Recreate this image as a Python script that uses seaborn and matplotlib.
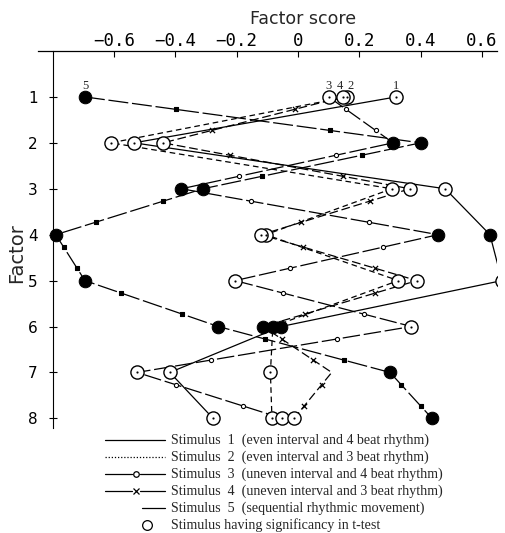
import numpy as np
import pandas as pd
import matplotlib
matplotlib.use("Agg")
import matplotlib.pyplot as plt
import seaborn as sns
from matplotlib.lines import Line2D

# ---------------- data ----------------
factors = [1, 2, 3, 4, 5, 6, 7, 8]
stim1 = [0.32, -0.535, 0.48, 0.626, 0.665, -0.055, -0.418, -0.277]
stim2 = [0.16, -0.61, 0.306, -0.105, 0.327, -0.082, -0.09, -0.085]
stim3 = [0.10, 0.31, -0.38, 0.457, -0.205, 0.37, -0.525, -0.052]
stim4 = [0.148, -0.44, 0.365, -0.12, 0.388, -0.114, 0.11, -0.013]
stim5 = [-0.695, 0.40, -0.31, -0.79, -0.695, -0.26, 0.30, 0.437]
# 1 = significant (open circle), 0 = not significant (filled), -1 = no marker
sig1 = [1, 1, 1, 0, 1, 0, 1, 1]
sig2 = [1, 1, 1, 1, 1, 0, 1, 1]
sig3 = [1, 0, 0, 0, 1, 1, 1, 1]
sig4 = [1, 1, 1, 1, 1, 0, -1, 1]
sig5 = [0, 0, 0, 0, 0, 0, 0, 0]
stim_ids = ["1", "2", "3", "4", "5"]
xticks = [-0.6, -0.4, -0.2, 0, 0.2, 0.4, 0.6]
xticklabels = ["\u22120.6", "\u22120.4", "\u22120.2", "0", "0.2", "0.4", "0.6"]
legend_labels = [
    "Stimulus  1  (even interval and 4 beat rhythm)",
    "Stimulus  2  (even interval and 3 beat rhythm)",
    "Stimulus  3  (uneven interval and 4 beat rhythm)",
    "Stimulus  4  (uneven interval and 3 beat rhythm)",
    "Stimulus  5  (sequential rhythmic movement)",
    "Stimulus having significancy in t-test",
]

values = [stim1, stim2, stim3, stim4, stim5]
sigs = [sig1, sig2, sig3, sig4, sig5]
rows = []
for sid, v, s in zip(stim_ids, values, sigs):
    for f, x, g in zip(factors, v, s):
        rows.append({"stim": sid, "factor": f, "score": x, "sig": g})
df = pd.DataFrame(rows)

# ---------------- figure ----------------
sns.set_theme(style="white")
plt.rcParams["font.family"] = ["DejaVu Sans"]
W, H = 506, 533
fig = plt.figure(figsize=(W / 100, H / 100), dpi=100)
fx = lambda px: px / W
fy = lambda py: 1 - py / H
ax = fig.add_axes([fx(38), fy(428), fx(497) - fx(38), fy(51) - fy(428)])

styles = {
    "1": dict(linestyle="-"),
    "2": dict(linestyle=(0, (4.5, 3))),
    "3": dict(linestyle=(0, (14, 3))),
    "4": dict(linestyle=(0, (7, 3))),
    "5": dict(linestyle=(0, (16, 3))),
}
for sid in stim_ids:
    d = df[df.stim == sid]
    sns.lineplot(data=d, x="score", y="factor", sort=False, estimator=None,
                 color="black", lw=0.9, ax=ax, zorder=2, **styles[sid])

# intermediate symbols along segments (stim 3: o, stim 4: x, stim 5: small squares)
mid_marks = {"3": ("o", 9, "white"), "4": ("x", 14, "black"), "5": ("s", 6, "black")}
for sid, (mk, sz, fc) in mid_marks.items():
    d = df[df.stim == sid]
    sx = d.score.to_numpy()
    sy = d.factor.to_numpy().astype(float)
    pts = []
    for t in (0.27, 0.73):
        px = sx[:-1] + t * (sx[1:] - sx[:-1])
        py = sy[:-1] + t * (sy[1:] - sy[:-1])
        pts.append(pd.DataFrame({"x": px, "y": py}))
    pts = pd.concat(pts)
    if mk == "x":
        sns.scatterplot(data=pts, x="x", y="y", marker="x", s=sz, color="black",
                        linewidth=0.9, ax=ax, zorder=3)
    else:
        sns.scatterplot(data=pts, x="x", y="y", marker=mk, s=sz, facecolor=fc,
                        edgecolor="black", linewidth=0.8, ax=ax, zorder=3)

# main markers
op = df[df.sig == 1]
fl = df[df.sig == 0]
sns.scatterplot(data=fl, x="score", y="factor", s=82, color="black",
                edgecolor="black", ax=ax, zorder=4)
sns.scatterplot(data=op, x="score", y="factor", s=90, facecolor="white",
                edgecolor="black", linewidth=1.0, ax=ax, zorder=5)
sns.scatterplot(data=op, x="score", y="factor", s=2, color="black",
                edgecolor="black", ax=ax, zorder=6)

# stimulus numbers above factor 1
label_dx = {"1": 0, "2": 2.5, "3": 0, "4": -2.5, "5": 0}
f1 = df[df.factor == 1]
for _, r in f1.iterrows():
    ax.annotate(r.stim, (r.score, r.factor), xytext=(label_dx[r.stim], 8),
                textcoords="offset points", ha="center", va="center", fontsize=9,
                family="Liberation Serif")

ax.set_xlim(-0.848, 0.649)
ax.set_ylim(8.21, 0.0)
ax.set_xlabel("")
ax.set_ylabel("")
ax.xaxis.tick_top()
ax.set_xticks(xticks)
ax.set_xticklabels(xticklabels, family="DejaVu Sans Mono", fontsize=12.5)
ax.set_yticks(factors)
ax.set_yticklabels([str(f) for f in factors], fontsize=12.5)
ax.tick_params(axis="x", direction="in", length=4, width=0.8, pad=1, top=True,
               bottom=False, colors="black")
ax.tick_params(axis="y", direction="inout", length=6, width=0.8, pad=8, left=True,
               colors="black")
for s in ["right", "bottom"]:
    ax.spines[s].set_visible(False)
ax.spines["top"].set_color("black")
ax.spines["top"].set_linewidth(0.9)
ax.spines["left"].set_color("black")
ax.spines["left"].set_linewidth(0.8)
ax.spines["left"].set_position(("data", -0.80))
ax.set_facecolor("white")

fig.text(fx(303), fy(19), "Factor score", ha="center", va="center", fontsize=12.5)
fig.text(fx(17), fy(253), "Factor", ha="center", va="center", rotation=90, fontsize=14)

# ---------------- legend ----------------
rows_y = [440, 457, 474, 491, 508, 525]
tx = fx(171)
for i, lab in enumerate(legend_labels):
    fig.text(tx, fy(rows_y[i]), lab, ha="left", va="center", fontsize=10.1,
             family="Liberation Serif")
kw = dict(color="black", lw=0.9, transform=fig.transFigure)
fig.add_artist(Line2D([fx(105), fx(165)], [fy(rows_y[0])] * 2, **kw))
fig.add_artist(Line2D([fx(105), fx(165)], [fy(rows_y[1])] * 2, linestyle=(0, (1, 1.5)), **kw))
for r, mk in ((2, "o"), (3, "x")):
    fig.add_artist(Line2D([fx(105), fx(132)], [fy(rows_y[r])] * 2, **kw))
    fig.add_artist(Line2D([fx(140), fx(165)], [fy(rows_y[r])] * 2, **kw))
    fig.add_artist(Line2D([fx(136)], [fy(rows_y[r])], marker=mk, markersize=4,
                          markerfacecolor="none", markeredgecolor="black",
                          markeredgewidth=0.9, linestyle="none",
                          transform=fig.transFigure))
fig.add_artist(Line2D([fx(142), fx(165)], [fy(rows_y[4])] * 2, **kw))
fig.add_artist(Line2D([fx(147)], [fy(rows_y[5])], marker="o", markersize=7,
                      markerfacecolor="white", markeredgecolor="black",
                      markeredgewidth=0.9, linestyle="none", transform=fig.transFigure))

fig.savefig("out.png", dpi=100, facecolor="white")
